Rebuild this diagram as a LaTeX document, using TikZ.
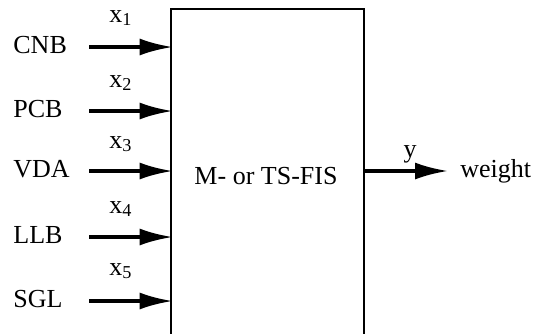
\documentclass[tikz,border=0pt]{standalone}
\usepackage{fontspec}
\setmainfont{Liberation Serif}
\usetikzlibrary{arrows.meta,positioning}

\tikzset{
  sig/.style={line width=1.7pt,shorten >=-1.5pt,-{Latex[length=16.5pt,width=8.5pt]}},
  inlabel/.style={anchor=base west,inner sep=0pt},
  varlabel/.style={anchor=base,inner sep=0pt},
}

\begin{document}
\begin{tikzpicture}[x=0.5pt,y=-0.5pt, every node/.style={font=\fontsize{13}{15}\selectfont}]
  \useasboundingbox (0,0) rectangle (549,333);
  % FIS block
  \node[draw,line width=1.4pt,minimum width=96.5pt,minimum height=163pt,inner sep=0pt] (fis) at (267.5,172) {};
  \node[anchor=base,inner sep=0pt] (fistxt) at (266,184) {M- or TS-FIS};
  % inputs
  \node[inlabel] (cnb) at (13,53) {CNB};
  \node[inlabel] (pcb) at (13,117) {PCB};
  \node[inlabel] (vda) at (13,177) {VDA};
  \node[inlabel] (llb) at (13,243) {LLB};
  \node[inlabel] (sgl) at (13,307) {SGL};
  \coordinate (s1) at (89,47);
  \coordinate (s2) at (89,111);
  \coordinate (s3) at (89,171);
  \coordinate (s4) at (89,237);
  \coordinate (s5) at (89,301);
  \draw[sig] (s1) -- (s1 -| fis.west);
  \draw[sig] (s2) -- (s2 -| fis.west);
  \draw[sig] (s3) -- (s3 -| fis.west);
  \draw[sig] (s4) -- (s4 -| fis.west);
  \draw[sig] (s5) -- (s5 -| fis.west);
  \node[varlabel] (x1) at (121,22) {x\textsubscript{1}};
  \node[varlabel] (x2) at (121,87) {x\textsubscript{2}};
  \node[varlabel] (x3) at (121,148) {x\textsubscript{3}};
  \node[varlabel] (x4) at (121,213) {x\textsubscript{4}};
  \node[varlabel] (x5) at (121,275) {x\textsubscript{5}};
  % output
  \coordinate (out) at (445,171);
  \draw[sig] (out -| fis.east) -- (out);
  \node[varlabel] (y) at (410,157) {y};
  \node[inlabel] (weight) at (460,177) {weight};
\end{tikzpicture}
\end{document}
